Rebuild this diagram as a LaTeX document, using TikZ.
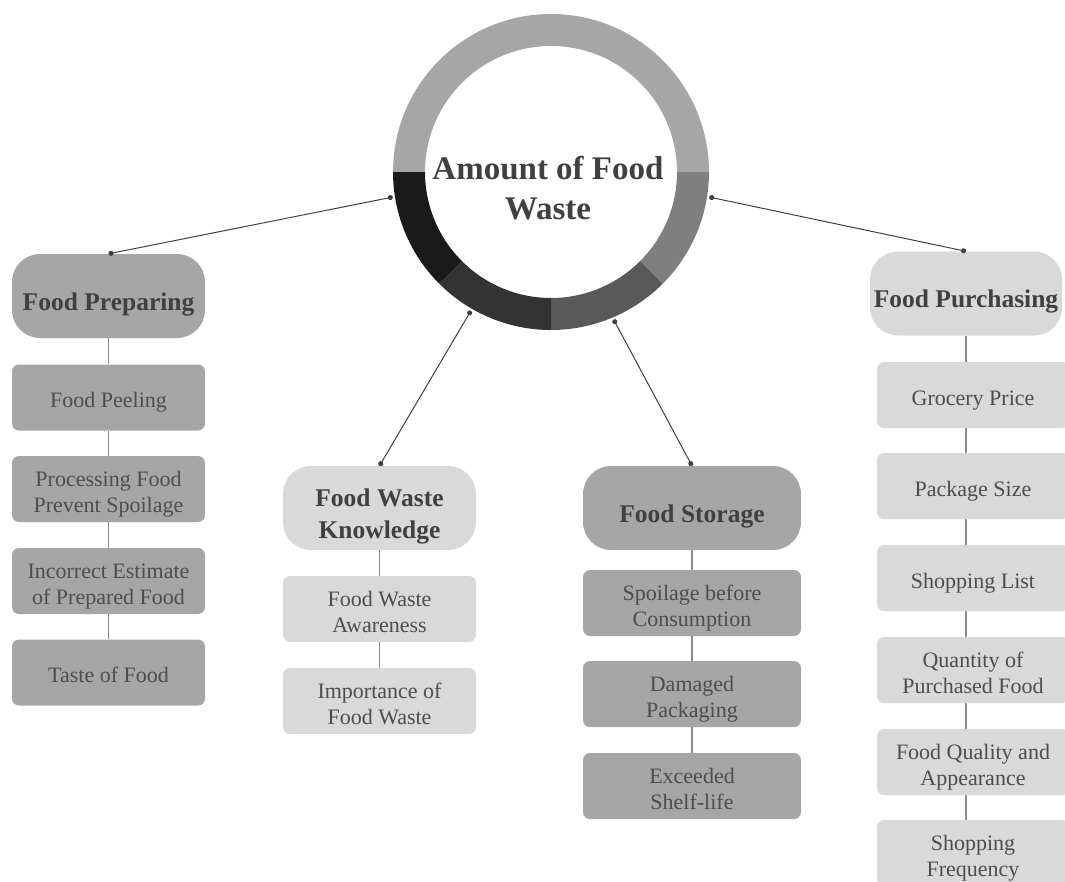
\documentclass[tikz,border=0pt]{standalone}
\usepackage{fontspec}
\setmainfont{Liberation Serif}
\usetikzlibrary{arrows.meta,calc}
\definecolor{dk}{HTML}{A6A6A6}
\definecolor{lt}{HTML}{D9D9D9}
\definecolor{tx}{HTML}{404040}
\definecolor{itx}{HTML}{4D4D4D}
\definecolor{segA}{HTML}{A6A6A6}
\definecolor{segB}{HTML}{7F7F7F}
\definecolor{segC}{HTML}{595959}
\definecolor{segD}{HTML}{333333}
\definecolor{segE}{HTML}{1A1A1A}
\definecolor{vl}{HTML}{8C8C8C}
\newcommand{\boxtxt}[2]{\raisebox{#1}[\height][\depth]{\begin{tabular}{@{}c@{}}#2\end{tabular}}}
\newcommand{\itm}[1]{\boxtxt{-5pt}{#1}}
\newcommand{\hdr}[1]{\boxtxt{-8pt}{#1}}
\begin{document}
\begin{tikzpicture}[x=1pt,y=-1pt,
  head/.style={rounded corners=28pt, minimum height=84pt, inner sep=0pt, text=tx,
    font=\fontsize{25.5}{32}\selectfont\bfseries},
  item/.style={rounded corners=7pt, minimum height=66pt, inner sep=0pt, text=itx,
    font=\fontsize{22}{26}\selectfont},
  link/.style={draw=tx, line width=1pt, {Circle[length=5pt]}-{Circle[length=5pt]}},
  vline/.style={draw=vl, line width=1.3pt}]
\useasboundingbox (0,0) rectangle (1065,881);
\clip (0,0) rectangle (1065,881);

% ring
\coordinate (C) at (551,172);
\def\Ro{158pt}\def\Ri{126pt}
\fill[segA] ($(C)+(180:\Ro)$) arc[start angle=180,end angle=0,radius=\Ro] -- ($(C)+(0:\Ri)$) arc[start angle=0,end angle=180,radius=\Ri] -- cycle;
\fill[segB] ($(C)+(0:\Ro)$) arc[start angle=0,end angle=-45,radius=\Ro] -- ($(C)+(-45:\Ri)$) arc[start angle=-45,end angle=0,radius=\Ri] -- cycle;
\fill[segC] ($(C)+(-45:\Ro)$) arc[start angle=-45,end angle=-90,radius=\Ro] -- ($(C)+(-90:\Ri)$) arc[start angle=-90,end angle=-45,radius=\Ri] -- cycle;
\fill[segD] ($(C)+(-90:\Ro)$) arc[start angle=-90,end angle=-135,radius=\Ro] -- ($(C)+(-135:\Ri)$) arc[start angle=-135,end angle=-90,radius=\Ri] -- cycle;
\fill[segE] ($(C)+(-135:\Ro)$) arc[start angle=-135,end angle=-180,radius=\Ro] -- ($(C)+(-180:\Ri)$) arc[start angle=-180,end angle=-135,radius=\Ri] -- cycle;
\node[circle, minimum size=320pt, inner sep=0pt] (ring) at (C) {};
\node[align=center, text=tx, font=\fontsize{33}{40}\selectfont\bfseries] (title) at (548,188) {Amount of Food\\Waste};

% Food Preparing column
\node[head, fill=dk, minimum width=193pt] (hp) at (108.5,296) {\hdr{Food Preparing}};
\node[item, fill=dk, minimum width=193pt] (p1) at (108.5,397.5) {\itm{Food Peeling}};
\node[item, fill=dk, minimum width=193pt] (p2) at (108.5,489) {\itm{Processing Food\\Prevent Spoilage}};
\node[item, fill=dk, minimum width=193pt] (p3) at (108.5,581) {\itm{Incorrect Estimate\\of Prepared Food}};
\node[item, fill=dk, minimum width=193pt] (p4) at (108.5,672.5) {\itm{Taste of Food}};

% Food Waste Knowledge column
\node[head, fill=lt, minimum width=193pt] (hk) at (379.5,508) {\hdr{Food Waste\\Knowledge}};
\node[item, fill=lt, minimum width=193pt] (k1) at (379.5,609) {\itm{Food Waste\\Awareness}};
\node[item, fill=lt, minimum width=193pt] (k2) at (379.5,701) {\itm{Importance of\\Food Waste}};

% Food Storage column
\node[head, fill=dk, minimum width=218pt] (hs) at (692,508) {\hdr{Food Storage}};
\node[item, fill=dk, minimum width=218pt] (s1) at (692,603) {\itm{Spoilage before\\Consumption}};
\node[item, fill=dk, minimum width=218pt] (s2) at (692,694) {\itm{Damaged\\Packaging}};
\node[item, fill=dk, minimum width=218pt] (s3) at (692,786) {\itm{Exceeded\\Shelf-life}};

% Food Purchasing column
\node[head, fill=lt, minimum width=192pt] (hu) at (966,293.5) {\hdr{Food Purchasing}};
\node[item, fill=lt, minimum width=192pt] (u1) at (973,395) {\itm{Grocery Price}};
\node[item, fill=lt, minimum width=192pt] (u2) at (973,486) {\itm{Package Size}};
\node[item, fill=lt, minimum width=192pt] (u3) at (973,578) {\itm{Shopping List}};
\node[item, fill=lt, minimum width=192pt] (u4) at (973,670) {\itm{Quantity of\\Purchased Food}};
\node[item, fill=lt, minimum width=192pt] (u5) at (973,762) {\itm{Food Quality and\\Appearance}};
\node[item, fill=lt, minimum width=192pt] (u6) at (973,853) {\itm{Shopping\\Frequency}};

% vertical links
\foreach \a/\b in {hp/p1,p1/p2,p2/p3,p3/p4,hk/k1,k1/k2,hs/s1,s1/s2,s2/s3}
  \draw[vline] (\a.south) -- (\b.north);
\foreach \a/\b in {hu/u1,u1/u2,u2/u3,u3/u4,u4/u5,u5/u6}
  \draw[vline] (\a.south -| hu) -- (\b.north -| hu);

% connectors to ring
\draw[link] (hp.north) -- (ring.189);
\draw[link] (hk.north) -- (ring.240);
\draw[link] (hs.north) -- (ring.293);
\draw[link] (hu.north) -- (ring.-9);
\end{tikzpicture}
\end{document}
